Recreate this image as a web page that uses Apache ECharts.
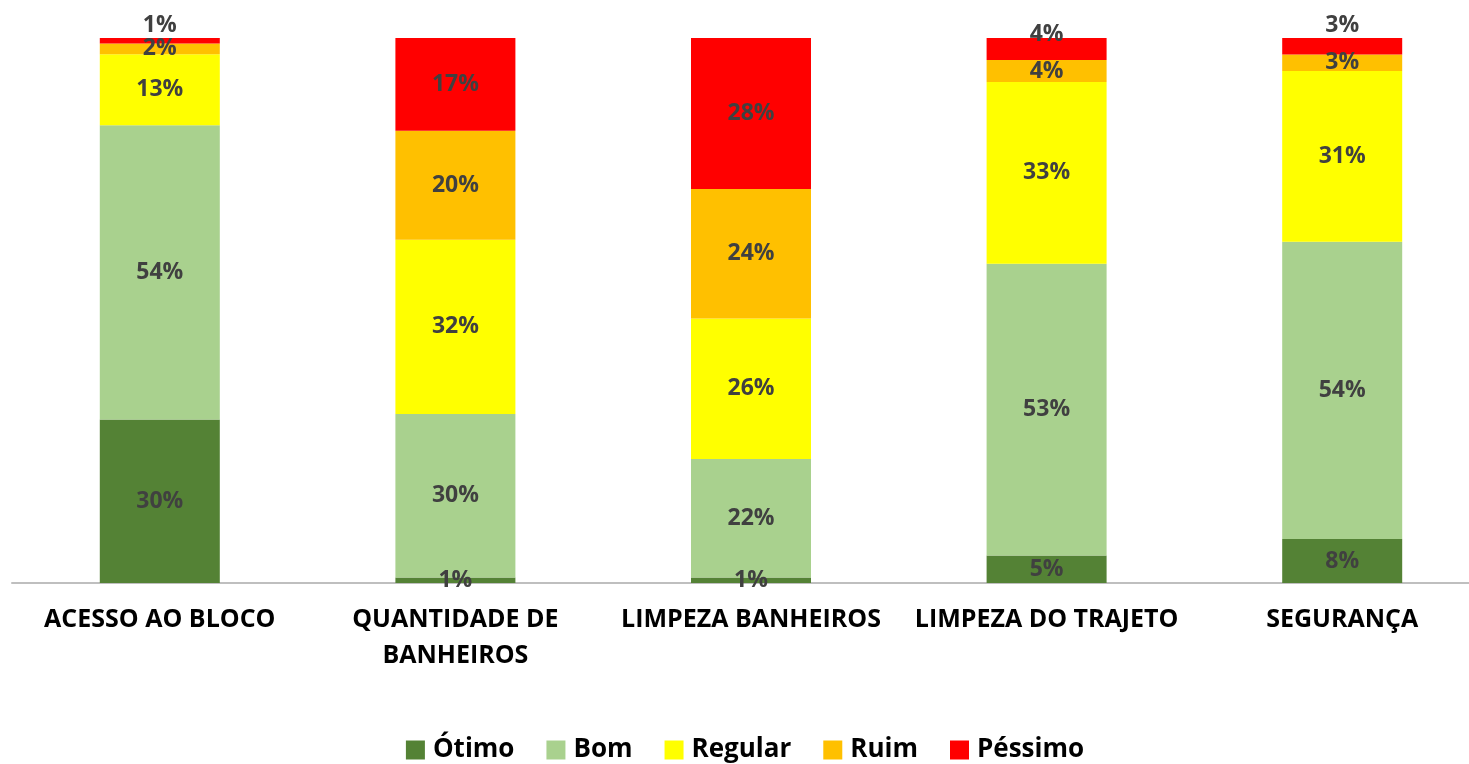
<!DOCTYPE html>
<html>
<head>
<meta charset="utf-8">
<title>Avaliação</title>
<script src="https://cdn.jsdelivr.net/npm/echarts@6/dist/echarts.min.js"></script>
<style>
  html, body { margin: 0; padding: 0; background: #fff; overflow: hidden; }
  /* a área do gráfico passa um pouco da janela à direita, como no original */
  #chart { width: 1490px; height: 764px; }
</style>
</head>
<body>
<div id="chart"></div>
<script>
// categorias (eixo x)
const categorias = ['ACESSO AO BLOCO', 'QUANTIDADE DE\nBANHEIROS', 'LIMPEZA BANHEIROS', 'LIMPEZA DO TRAJETO', 'SEGURANÇA'];

// percentuais
const otimo = [30, 1, 1, 5, 8];
const bom = [54, 30, 22, 53, 54];
const regular = [13, 32, 26, 33, 31];
const ruim = [2, 20, 24, 4, 3];
const pessimo = [1, 17, 28, 4, 3];

const nomes = ['Ótimo', 'Bom', 'Regular', 'Ruim', 'Péssimo'];
const cores = ['#548235', '#a9d18e', '#ffff00', '#ffc000', '#ff0000'];

const grupos = [otimo, bom, regular, ruim, pessimo];
// total de cada barra, para empilhar em 100%
const totais = categorias.map((c, i) => grupos.reduce((s, g) => s + g[i], 0));

const fonte = '"Open Sans", "DejaVu Sans", sans-serif';

const series = grupos.map((g, k) => ({
  name: nomes[k],
  type: 'bar',
  stack: 'total',
  barWidth: 120,
  itemStyle: { color: cores[k] },
  label: {
    show: true,
    position: 'inside',
    formatter: p => g[p.dataIndex] + '%',
    color: '#404040',
    fontFamily: fonte,
    fontWeight: 'bold',
    fontSize: 23
  },
  data: g.map((v, i) => {
    const item = { value: v / totais[i] * 100 };
    // rótulos de péssimo pequenos ficam acima da barra
    if (k === 4 && v < 5) {
      item.label = { position: 'top', distance: i === 3 ? -8 : 1 };
    }
    return item;
  })
}));

const chart = echarts.init(document.getElementById('chart'));
chart.setOption({
  animation: false,
  grid: { left: 12, top: 38, width: 1478, height: 545 },
  legend: {
    top: 732,
    left: 'center',
    itemWidth: 19,
    itemHeight: 19,
    itemGap: 32,
    icon: 'rect',
    textStyle: { fontFamily: fonte, fontWeight: 'bold', fontSize: 26, color: '#000', padding: [0, 0, 0, 3] },
    data: nomes
  },
  xAxis: {
    type: 'category',
    data: categorias,
    axisTick: { show: false },
    axisLine: { lineStyle: { color: '#bfbfbf', width: 2 } },
    axisLabel: {
      color: '#000',
      fontFamily: fonte,
      fontWeight: 'bold',
      fontSize: 25,
      lineHeight: 36,
      margin: 19,
      interval: 0
    }
  },
  yAxis: {
    type: 'value',
    min: 0,
    max: 100,
    show: false,
    splitLine: { show: false }
  },
  series: series
});
</script>
</body>
</html>
